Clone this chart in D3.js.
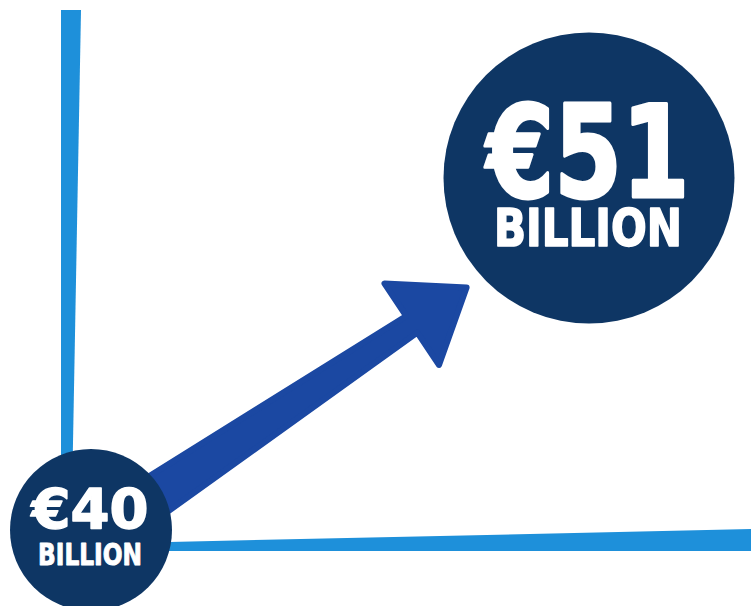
<!DOCTYPE html>
<html>
<head>
<meta charset="utf-8">
<script src="https://cdn.jsdelivr.net/npm/d3@7"></script>
<style>
  html, body { margin: 0; padding: 0; background: #ffffff; }
  svg { display: block; }
  text { font-family: "DejaVu Sans", "Liberation Sans", sans-serif; font-stretch: condensed; font-weight: bold; }
</style>
</head>
<body>
<svg id="chart" width="751" height="606"></svg>
<script>
// Spending then and now, in billions of euro
const steps = [0, 1];
const values = [40, 51];
const valueLabels = ["€40", "€51"];
const unitLabels = ["BILLION", "BILLION"];

const W = 751, H = 606;
const colors = { axis: "#1e90da", arrow: "#1b48a2", bubble: "#0e3664", text: "#ffffff" };

const svg = d3.select("#chart");

// Position of each bubble along the growth path
const x = d3.scaleLinear().domain([0, 1]).range([91, 589]);
const y = d3.scaleLinear().domain([40, 51]).range([530, 178]);
// Bubble size and typography grow with the amount
const r = d3.scaleLinear().domain([40, 51]).range([81, 145.5]);
const valueFont = d3.scaleLinear().domain([40, 51]).range([55, 129]);
const unitFont = d3.scaleLinear().domain([40, 51]).range([30, 51]);
const valueWidth = d3.scaleLinear().domain([40, 51]).range([117, 203]);
const unitWidth = d3.scaleLinear().domain([40, 51]).range([104, 188]);
const labelGap = d3.scaleLinear().domain([40, 51]).range([16, 11]);

// Hand-drawn style axes: tapered strokes
const axisX = d3.scaleLinear().domain([0, 1]).range([61, W]);
const axisY = d3.scaleLinear().domain([0, 1]).range([551, 10]);
const line = d3.line();

// vertical axis, thinning toward the bottom
svg.append("path")
  .attr("d", line([
    [axisX(0), axisY(1)], [axisX(0) + 20, axisY(1)],
    [axisX(0) + 10, axisY(0)], [axisX(0), axisY(0)]
  ]) + "Z")
  .attr("fill", colors.axis);

// horizontal axis, thickening toward the right
svg.append("path")
  .attr("d", line([
    [axisX(0), axisY(0) - 6.6], [axisX(1), axisY(0) - 22],
    [axisX(1), axisY(0)], [axisX(0), axisY(0)]
  ]) + "Z")
  .attr("fill", colors.axis);

// Growth arrow: tapered shaft with a triangular head, built in a local frame
const theta = 33.8 * Math.PI / 180;
const u = [Math.cos(theta), -Math.sin(theta)];   // along the arrow
const n = [Math.sin(theta), Math.cos(theta)];    // across the arrow
const start = [x(0), y(40) + 9];
const shaftLen = 386, headLen = 66, headHalf = 49;
const halfStart = 22.5, halfEnd = 10;
const pt = (s, t) => [start[0] + u[0] * s + n[0] * t, start[1] + u[1] * s + n[1] * t];
const arrowPts = [
  pt(0, -halfStart),
  pt(shaftLen, -halfEnd),
  pt(shaftLen, -headHalf),
  pt(shaftLen + headLen, 0),
  pt(shaftLen, headHalf),
  pt(shaftLen, halfEnd),
  pt(0, halfStart)
];
svg.append("path")
  .attr("d", line(arrowPts) + "Z")
  .attr("fill", colors.arrow)
  .attr("stroke", colors.arrow)
  .attr("stroke-width", 6)
  .attr("stroke-linejoin", "round");

// Bubbles with their amounts
const data = steps.map((s, i) => ({
  step: s, value: values[i], label: valueLabels[i], unit: unitLabels[i]
}));

const g = svg.selectAll("g.bubble").data(data).join("g")
  .attr("class", "bubble")
  .attr("transform", d => `translate(${x(d.step)},${y(d.value)})`);

g.append("circle")
  .attr("r", d => r(d.value))
  .attr("fill", colors.bubble);

// amount and unit stacked in one label
const cap = 0.729;
const blockH = v => valueFont(v) * cap + labelGap(v) + unitFont(v) * cap;

const label = g.append("text")
  .attr("text-anchor", "middle")
  .attr("fill", colors.text)
  .attr("stroke", colors.text)
  .attr("stroke-linejoin", "round");

label.append("tspan")
  .attr("x", -1)
  .attr("y", d => -3.5 - blockH(d.value) / 2 + valueFont(d.value) * cap)
  .attr("font-size", d => valueFont(d.value))
  .attr("stroke-width", d => valueFont(d.value) * 0.025)
  .attr("textLength", d => valueWidth(d.value))
  .attr("lengthAdjust", "spacingAndGlyphs")
  .text(d => d.label);

label.append("tspan")
  .attr("x", -1)
  .attr("y", d => -3.5 + blockH(d.value) / 2)
  .attr("font-size", d => unitFont(d.value))
  .attr("stroke-width", d => unitFont(d.value) * 0.03)
  .attr("textLength", d => unitWidth(d.value))
  .attr("lengthAdjust", "spacingAndGlyphs")
  .text(d => d.unit);
</script>
</body>
</html>
